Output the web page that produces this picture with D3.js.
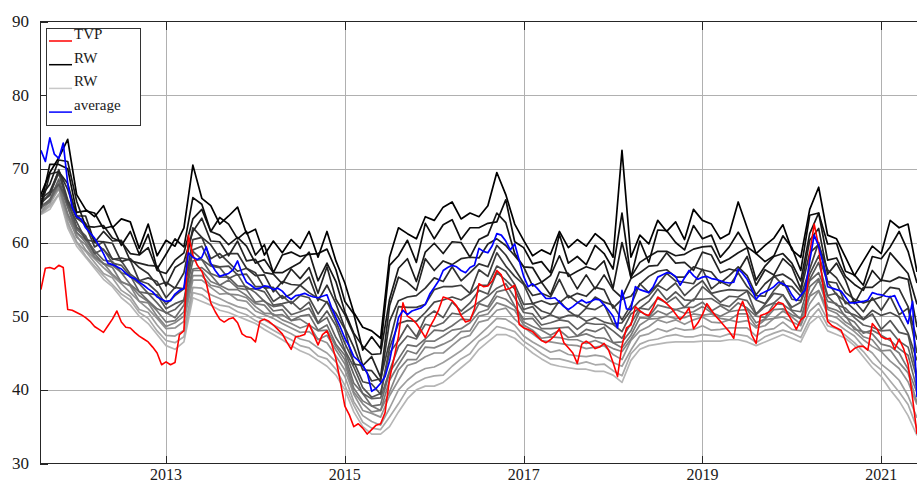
<!DOCTYPE html>
<html>
<head>
<meta charset="utf-8">
<script src="https://cdn.jsdelivr.net/npm/d3@7"></script>
<style>
  html, body { margin: 0; padding: 0; background: #fff; }
  svg { display: block; }
</style>
</head>
<body>
<svg id="chart" width="917" height="484"></svg>
<script>
// Sampling grids (decimal years)
const fineStart = 2011.6, fineStep = 0.05;   // TVP and average
const rwStart = 2011.6, rwStep = 0.1;        // RW paths

const yTicks = [30, 40, 50, 60, 70, 80, 90];
const xTicks = [2013, 2015, 2017, 2019, 2021];
const legendLabels = ["TVP", "RW", "RW", "average"];

const tvp = [53.6,56.5,56.6,56.4,56.9,56.6,50.9,50.8,50.5,50.2,
49.8,49.3,48.6,48.2,47.8,48.7,49.6,50.7,49.2,48.5,
48.4,47.8,47.3,46.9,46.5,45.8,45.0,43.4,43.8,43.4,
43.7,47.5,48.0,61.0,58.3,56.9,56.1,54.5,51.8,50.6,
49.6,49.2,49.6,49.8,49.1,47.6,47.2,47.1,46.5,49.3,
49.6,49.3,48.8,48.2,47.6,46.5,45.5,47.2,47.3,47.5,
49.0,47.5,46.1,47.5,48.0,46.4,44.2,41.1,37.8,36.6,
35.0,35.4,34.8,34.0,34.6,35.2,35.4,36.9,41.5,44.3,
47.3,51.8,50.0,49.6,49.0,48.1,47.1,48.5,49.6,50.9,
52.6,52.4,52.1,51.4,50.1,49.2,49.4,51.0,54.4,54.0,
54.1,54.8,56.2,55.6,53.6,53.8,54.2,48.9,48.4,48.2,
47.9,47.3,46.7,46.4,46.8,47.4,48.3,46.4,45.7,45.0,
43.6,46.2,46.6,46.2,45.6,45.8,46.3,45.4,43.7,41.8,
46.0,48.4,48.8,51.3,50.7,50.3,50.1,51.2,52.6,52.2,
51.7,51.1,50.3,49.5,50.2,51.1,48.3,49.1,50.2,51.7,
50.8,50.0,49.3,48.6,47.9,47.0,50.6,52.0,50.3,47.5,
46.3,50.1,50.3,50.6,51.2,51.9,51.7,50.4,49.4,48.2,
49.5,50.0,58.5,62.5,59.5,54.0,49.3,48.7,48.4,48.1,
46.7,45.1,45.6,45.9,45.9,45.4,49.0,48.3,47.2,46.9,
47.0,45.5,46.9,45.6,43.5,38.9,34.0];

const average = [72.5,71.0,74.2,72.0,71.4,73.5,68.0,64.8,63.5,63.2,
62.0,61.3,60.6,59.6,58.5,57.2,57.0,56.7,56.4,55.8,
55.3,55.1,54.6,54.2,53.7,53.3,52.6,52.3,52.0,52.1,
53.0,53.5,53.8,58.6,58.0,57.7,58.0,59.4,57.2,56.2,
55.4,55.6,55.8,56.3,57.5,55.8,54.6,54.2,53.7,53.8,
54.1,54.0,53.6,53.8,53.4,52.7,52.3,52.8,52.9,53.1,
52.8,52.6,52.5,52.7,52.9,51.2,49.8,48.5,47.0,45.9,
44.5,44.0,43.3,42.3,39.8,40.2,40.9,41.8,43.9,47.0,
49.8,50.8,50.2,50.7,50.9,51.1,51.6,53.0,53.9,54.8,
56.2,56.6,56.9,56.7,56.2,55.9,56.6,56.9,59.2,58.8,
58.6,59.6,61.2,61.0,60.2,59.0,59.8,57.6,55.4,54.0,
54.4,53.8,53.1,52.4,52.4,52.5,51.9,51.3,50.9,51.3,
51.8,52.2,51.8,52.0,52.3,52.2,51.5,50.8,50.0,48.4,
53.5,51.0,50.9,54.0,53.6,53.4,53.2,54.0,55.3,55.6,
55.9,55.8,55.4,54.2,55.2,56.2,55.5,55.0,55.3,55.4,
55.1,55.0,54.8,54.6,54.5,54.6,56.4,55.8,55.0,53.7,
52.3,53.0,53.3,53.6,54.0,54.6,54.4,54.0,52.9,52.1,
52.8,53.6,57.5,61.0,59.5,57.2,54.0,53.8,53.6,53.4,
52.6,51.8,51.8,51.9,52.0,52.2,53.2,53.0,52.9,52.7,
52.6,52.8,51.5,50.3,49.0,52.0,39.0];

// RW paths, darkest (rw01) to lightest (rw16)
const rw01 = [66.5,69.5,71.5,74.0,66.5,64.5,63.5,65.0,62.0,63.2,
62.8,59.2,62.5,58.2,60.3,59.5,62.0,70.5,66.0,65.0,
62.5,63.6,64.8,61.2,61.8,58.3,60.2,58.6,60.4,59.2,
61.5,58.0,61.5,57.5,54.5,50.5,48.5,48.0,47.0,58.0,
62.0,61.2,60.5,63.5,63.0,64.8,65.5,63.2,64.0,63.5,
65.0,69.5,66.5,62.5,60.3,58.2,59.0,58.4,61.5,59.3,
60.4,59.5,61.2,60.2,58.0,72.5,58.0,61.0,59.8,63.0,
61.5,62.8,60.4,64.5,63.0,62.5,60.5,61.2,65.5,62.0,
58.5,59.6,60.6,62.4,59.0,58.0,64.5,67.5,61.0,60.5,
58.0,55.5,57.5,59.5,58.5,63.0,62.0,62.5,56.0];
const rw02 = [65.1,70.6,70.6,70.0,64.1,64.3,64.0,61.9,62.2,59.6,
61.5,58.4,61.1,56.4,58.4,60.5,59.4,66.1,65.2,61.5,
63.4,62.5,60.5,61.5,58.3,59.7,55.9,58.3,58.7,58.1,
58.4,58.5,59.1,56.3,52.0,50.3,45.4,47.2,45.6,56.9,
58.2,60.3,57.3,62.6,60.5,62.4,63.1,60.4,62.0,62.0,
62.6,62.8,65.8,60.1,59.3,57.1,57.4,55.9,61.1,57.2,
58.1,57.0,59.6,58.5,56.4,64.0,55.2,60.2,57.3,61.7,
61.6,60.0,59.0,62.3,60.5,61.0,58.0,59.4,61.4,59.4,
58.5,57.4,58.2,60.9,59.3,56.2,63.7,64.0,59.8,59.9,
56.1,55.6,54.2,58.1,57.8,59.4,61.5,58.8,54.5];
const rw03 = [66.2,67.9,71.2,71.0,65.6,62.2,62.1,62.3,60.6,60.1,
58.5,58.3,59.3,56.2,55.8,57.6,58.6,63.2,64.5,61.5,
61.0,59.7,60.7,59.5,57.2,57.7,55.9,55.9,56.6,57.3,
58.7,54.8,57.2,54.7,50.6,47.7,45.9,44.8,44.9,52.3,
56.5,57.8,54.7,58.7,59.9,58.5,60.1,60.0,58.0,60.4,
61.0,64.0,62.7,58.5,56.7,56.6,54.6,55.5,58.2,55.4,
56.1,56.7,56.3,57.5,53.8,60.0,55.3,57.3,58.1,58.8,
58.8,58.2,58.4,59.1,59.4,59.5,57.2,57.8,58.6,59.3,
54.9,56.8,58.1,58.5,57.2,54.8,61.2,64.0,57.6,57.9,
55.4,54.3,53.5,56.2,54.8,58.6,57.2,55.8,51.6];
const rw04 = [64.6,69.3,69.6,68.0,63.6,63.6,60.0,61.5,60.2,60.3,
57.5,57.2,56.9,56.8,54.1,56.6,57.4,61.5,63.3,60.2,
60.1,58.2,60.2,57.5,57.7,55.9,55.7,54.4,56.4,55.1,
56.6,53.1,56.7,52.3,50.2,47.5,43.3,44.5,41.7,51.4,
55.3,54.6,53.5,57.8,56.2,57.5,57.0,57.8,58.0,57.9,
59.8,60.5,59.6,58.2,56.7,54.1,54.6,52.9,56.0,55.8,
53.7,55.6,53.7,55.6,53.6,52.5,55.1,55.9,56.8,56.9,
58.6,57.2,57.3,56.2,58.7,58.3,55.9,56.4,56.1,58.1,
54.2,56.3,55.6,57.8,56.7,53.7,60.3,61.9,55.7,57.2,
54.9,51.7,53.9,53.9,54.9,54.7,55.3,55.0,48.5];
const rw05 = [65.9,66.9,69.7,67.2,63.6,62.6,60.2,60.1,59.9,57.4,
57.8,56.6,55.8,54.2,54.6,53.8,55.9,62.0,60.7,59.7,
57.9,58.5,58.5,56.5,55.5,55.6,53.3,54.7,54.3,54.2,
55.3,52.1,54.2,51.7,48.4,45.8,42.7,42.6,41.1,49.3,
52.1,52.6,52.8,53.8,55.2,54.7,56.7,54.8,55.9,57.1,
56.7,59.6,58.3,56.4,54.5,52.8,53.1,52.6,55.0,52.5,
53.1,52.7,53.9,53.6,51.1,52.3,52.7,54.3,55.4,56.1,
56.3,55.3,55.3,56.7,56.3,56.0,54.5,55.5,56.7,55.5,
52.9,54.4,55.4,55.7,54.9,53.3,58.6,59.7,56.3,55.2,
53.2,52.3,51.8,52.2,52.6,53.9,53.7,51.3,46.8];
const rw06 = [65.4,66.4,69.9,65.8,63.3,62.4,59.4,60.1,57.7,57.9,
57.6,54.8,55.2,54.7,52.5,53.9,53.7,60.4,60.7,57.8,
58.5,57.3,56.1,56.5,55.9,53.8,53.9,52.4,53.0,54.2,
53.2,52.4,51.9,50.4,48.2,43.5,43.3,41.2,41.5,46.5,
51.3,51.2,51.2,51.6,53.6,54.0,54.0,54.2,53.1,56.3,
55.4,58.6,56.8,55.4,54.3,51.7,52.1,51.6,51.8,52.8,
51.9,51.2,52.6,51.9,51.5,49.5,51.5,54.4,53.2,54.3,
55.8,54.8,54.6,54.4,56.4,53.7,54.7,54.1,55.9,54.0,
52.8,52.7,55.5,54.2,54.0,52.7,56.4,60.0,54.7,54.5,
51.7,52.0,50.6,52.5,50.8,52.7,50.2,51.1,45.0];
const rw07 = [65.3,66.6,69.4,65.3,62.8,60.4,60.1,59.0,57.8,57.5,
55.7,54.8,54.4,53.3,51.6,52.8,53.7,59.0,59.5,57.0,
56.7,56.8,55.6,55.7,54.0,54.0,52.0,52.8,51.7,52.8,
52.5,50.3,52.0,49.3,46.3,43.8,41.1,40.8,39.4,45.7,
49.0,49.4,49.3,50.5,51.9,52.2,52.6,52.2,53.0,54.2,
54.2,56.8,56.1,54.3,51.6,51.7,50.7,50.3,52.1,50.7,
49.9,51.1,50.9,51.6,49.0,49.1,50.8,52.1,52.8,54.2,
53.5,54.5,52.8,53.9,54.8,53.1,53.4,53.6,53.5,53.5,
52.2,51.7,53.5,54.8,52.3,52.1,55.7,58.2,54.6,52.9,
52.0,50.9,49.6,50.8,50.1,50.5,49.9,47.7,44.0];
const rw08 = [65.3,66.6,67.9,65.7,62.1,60.9,58.5,59.1,57.2,56.9,
55.4,54.4,53.1,52.9,51.0,51.7,52.2,58.8,57.7,56.8,
56.6,55.1,55.7,53.7,53.7,53.3,51.5,51.7,52.0,50.9,
51.9,49.1,50.7,48.7,45.4,43.1,40.3,39.0,39.5,45.0,
46.7,48.8,47.2,49.8,50.7,49.8,51.9,50.7,51.8,53.5,
53.0,55.9,54.9,53.7,50.9,51.3,49.6,50.2,49.7,50.1,
50.1,49.3,49.8,49.2,48.9,47.9,50.3,51.1,52.0,53.7,
52.2,53.3,52.2,52.1,54.0,53.0,51.9,52.7,52.6,53.4,
50.3,51.6,53.1,52.9,51.2,51.9,55.0,57.3,52.8,53.1,
50.6,50.2,49.5,50.3,48.2,49.4,47.8,47.5,42.0];
const rw09 = [64.9,65.8,68.6,64.9,61.8,60.6,58.9,57.6,57.4,55.9,
55.5,53.3,53.1,51.8,50.4,50.9,52.1,57.5,57.7,55.8,
55.3,55.3,54.1,54.0,53.2,52.0,51.3,51.5,50.2,50.6,
51.1,49.0,49.8,47.1,45.2,42.1,39.5,38.8,38.9,42.6,
45.9,47.3,46.9,48.9,48.6,49.1,50.4,50.2,51.0,51.9,
52.7,53.8,54.4,52.5,50.5,50.3,48.8,49.1,49.5,49.3,
48.2,49.1,48.9,48.9,48.0,47.0,49.0,51.1,50.9,52.4,
51.8,52.6,51.2,52.3,52.3,52.4,51.6,51.3,52.4,52.1,
50.2,51.3,51.8,52.9,50.8,50.6,54.8,55.9,52.7,51.5,
51.1,49.8,48.8,48.5,48.0,48.1,46.6,45.8,41.5];
const rw10 = [64.8,65.5,68.1,64.8,61.3,60.4,58.5,57.1,56.9,55.9,
54.3,53.3,52.1,51.0,50.5,49.8,51.5,56.4,56.6,55.6,
54.2,54.9,53.8,53.6,51.9,52.1,50.7,50.9,49.4,50.0,
50.2,48.1,48.8,46.2,44.7,40.9,39.5,37.8,38.0,42.4,
44.2,46.1,45.9,46.9,48.1,48.0,48.7,49.6,49.5,51.7,
51.3,53.3,53.6,51.4,49.6,49.7,48.3,48.3,48.4,48.5,
47.3,48.2,47.9,48.5,46.4,46.5,48.0,50.7,49.9,51.5,
51.2,50.9,51.2,51.2,51.9,50.7,51.4,50.7,51.8,51.1,
50.0,49.8,51.7,51.6,50.7,49.6,54.0,55.1,52.0,51.7,
49.9,49.2,47.7,48.1,47.4,46.7,45.6,44.7,40.1];
const rw11 = [64.9,65.7,67.9,63.9,61.4,60.0,58.1,57.1,56.6,54.6,
54.2,52.8,52.0,50.7,49.2,49.4,50.6,56.2,56.2,54.7,
54.2,53.6,53.6,52.8,51.7,51.5,50.1,50.2,49.4,49.6,
48.8,48.0,48.1,45.9,44.1,40.2,38.5,37.8,37.2,41.3,
43.4,45.3,44.9,46.6,46.6,47.3,48.1,48.3,49.1,50.5,
50.9,52.7,52.3,51.3,49.2,48.6,48.1,47.4,48.1,47.1,
47.3,47.6,47.1,47.0,46.4,45.7,47.4,49.8,49.7,50.7,
50.2,50.9,50.4,50.6,51.3,50.5,50.0,50.6,50.8,50.9,
49.1,49.6,50.9,51.0,50.2,49.7,52.9,54.9,51.2,50.8,
50.1,48.2,47.9,47.6,46.2,45.9,45.0,42.8,39.6];
const rw12 = [64.5,65.9,67.4,63.8,60.7,59.7,57.9,57.2,55.7,54.7,
54.1,52.0,51.8,50.0,48.6,49.1,50.0,55.5,55.5,54.2,
53.9,53.0,52.9,52.5,51.3,50.4,50.3,49.5,49.0,48.4,
48.8,46.8,47.4,45.4,43.5,39.7,38.1,37.0,37.2,39.7,
42.7,44.1,44.1,45.8,45.7,46.2,46.8,47.9,48.0,50.0,
50.3,51.8,51.4,50.8,48.8,48.1,47.0,47.2,47.1,46.8,
46.8,46.3,46.7,46.2,45.6,45.2,46.9,48.8,49.6,49.7,
50.0,49.7,49.8,50.3,50.1,50.3,49.7,49.5,50.3,50.3,
48.6,49.5,49.7,50.7,49.9,48.9,52.7,53.5,50.9,50.4,
49.2,48.5,47.2,46.8,45.3,45.4,43.7,42.3,38.3];
const rw13 = [64.1,65.6,67.5,63.3,61.0,59.0,57.8,56.6,55.5,54.4,
53.2,52.0,51.0,49.7,48.3,48.4,49.3,54.9,54.9,53.9,
53.0,53.1,52.2,52.0,50.7,50.2,49.7,49.0,48.4,47.8,
47.9,46.9,46.4,44.6,42.7,39.4,37.2,36.8,36.3,39.2,
41.3,43.3,43.7,44.5,45.0,45.0,46.0,47.0,47.4,49.2,
49.5,50.8,51.1,49.6,48.5,47.6,46.7,46.5,46.3,46.1,
46.0,45.6,45.8,46.0,44.8,44.1,46.7,48.0,48.6,49.5,
49.1,49.5,48.9,49.5,49.9,49.2,49.1,49.5,49.2,49.4,
48.4,48.7,49.7,49.9,49.2,48.7,51.7,53.4,50.2,49.8,
48.8,47.9,46.8,45.9,45.2,43.9,42.9,41.1,38.0];
const rw14 = [63.9,65.2,67.3,62.8,60.1,58.8,57.3,55.8,55.2,53.5,
52.7,50.9,50.5,48.8,47.4,47.3,48.1,53.9,53.8,52.9,
52.4,51.8,51.3,51.0,50.0,49.5,48.8,48.2,47.6,46.9,
46.6,45.7,45.0,43.8,41.8,38.4,36.5,35.7,35.2,37.5,
40.0,41.3,42.3,42.9,43.1,43.7,44.5,45.3,46.3,47.4,
48.5,49.7,49.6,48.8,47.3,46.5,45.8,45.1,45.4,44.8,
44.6,44.5,44.7,44.5,43.7,43.2,45.4,47.3,47.6,48.3,
47.9,48.4,48.1,48.2,48.7,48.1,48.2,48.4,48.4,48.4,
47.3,48.1,48.3,49.2,48.2,48.0,50.7,51.8,49.5,49.0,
48.1,47.3,45.9,45.0,43.5,42.5,41.3,39.2,36.2];
const rw15 = [63.9,64.9,66.6,62.4,60.0,58.2,56.8,55.5,54.3,53.0,
52.2,50.5,49.7,48.0,46.7,46.4,47.2,53.2,52.9,52.0,
51.5,51.3,50.6,50.2,49.4,48.8,48.1,47.4,46.8,46.0,
45.7,44.6,44.2,42.8,40.6,37.9,35.6,34.8,34.6,36.3,
38.1,40.1,41.0,41.6,41.9,42.0,43.2,44.2,44.9,46.6,
47.4,48.6,48.3,47.9,46.6,45.8,44.9,44.2,44.2,43.9,
43.5,43.8,43.4,43.5,42.6,41.9,44.9,46.2,46.7,46.9,
47.3,47.5,47.2,47.2,47.5,47.4,47.2,47.6,47.5,47.3,
46.4,47.2,47.7,48.1,47.7,47.1,49.6,51.0,48.7,48.3,
47.4,46.4,45.2,43.7,42.7,41.2,39.7,38.0,34.8];
const rw16 = [63.8,64.5,66.5,62.0,59.5,58.0,56.5,55.0,54.0,52.5,
51.5,50.0,49.0,47.5,46.0,45.5,46.5,52.5,52.0,51.5,
50.8,50.5,50.0,49.5,49.0,48.2,47.5,46.8,46.0,45.3,
44.8,44.0,43.2,42.0,40.0,37.0,35.0,34.0,34.0,35.0,
37.0,38.8,40.0,40.5,40.5,41.0,42.0,43.0,44.0,45.5,
46.5,47.5,47.5,47.0,46.0,45.0,44.2,43.5,43.2,43.0,
42.8,42.8,42.5,42.5,42.0,41.0,44.0,45.5,46.0,46.2,
46.4,46.5,46.5,46.5,46.6,46.6,46.6,46.8,46.8,46.5,
46.0,46.5,47.0,47.5,47.0,46.5,49.0,50.0,48.0,47.5,
47.0,46.0,44.5,43.0,41.8,40.0,38.5,36.5,33.8];

const rwPaths = [rw01, rw02, rw03, rw04, rw05, rw06, rw07, rw08,
                 rw09, rw10, rw11, rw12, rw13, rw14, rw15, rw16];

// ---------------------------------------------------------------
const svg = d3.select("#chart");
const plot = { left: 40, right: 917, top: 21.5, bottom: 463.5 };

const x = d3.scaleLinear().domain([2011.59, 2021.40]).range([plot.left, plot.right]);
const y = d3.scaleLinear().domain([30, 90]).range([plot.bottom, plot.top]);

const axisColor = "#262626";
const gridColor = "#b0b0b0";
const fontFamily = "'Liberation Serif', 'Times New Roman', serif";

svg.append("rect").attr("width", 917).attr("height", 484).attr("fill", "#fff");

// grid
const grid = svg.append("g").attr("shape-rendering", "crispEdges");
grid.selectAll("line.gy").data(yTicks.filter(t => t > 30 && t < 90)).join("line")
  .attr("x1", plot.left).attr("x2", plot.right)
  .attr("y1", d => Math.round(y(d)) + 0.5).attr("y2", d => Math.round(y(d)) + 0.5)
  .attr("stroke", gridColor).attr("stroke-width", 1);
grid.selectAll("line.gx").data(xTicks).join("line")
  .attr("y1", plot.top).attr("y2", plot.bottom)
  .attr("x1", d => Math.round(x(d)) + 0.5).attr("x2", d => Math.round(x(d)) + 0.5)
  .attr("stroke", gridColor).attr("stroke-width", 1);

// data layer, clipped to the axes box
svg.append("clipPath").attr("id", "plotClip").append("rect")
  .attr("x", plot.left).attr("y", plot.top)
  .attr("width", plot.right - plot.left).attr("height", plot.bottom - plot.top);
const layer = svg.append("g").attr("clip-path", "url(#plotClip)");

const rwLine = d3.line().x((d, i) => x(rwStart + i * rwStep)).y(d => y(d));
const fineLine = d3.line().x((d, i) => x(fineStart + i * fineStep)).y(d => y(d));
const shade = d3.interpolateRgb("#000000", "#b6b6b6");
const n = rwPaths.length;

// lighter paths first so the darker ones sit on top
layer.selectAll("path.rw").data(rwPaths.map((v, i) => ({ v, i })).reverse()).join("path")
  .attr("class", "rw")
  .attr("d", d => rwLine(d.v))
  .attr("fill", "none")
  .attr("stroke", d => shade(d.i / (n - 1)))
  .attr("stroke-width", 1.7)
  .attr("stroke-linejoin", "round");

layer.append("path").datum(tvp).attr("d", fineLine)
  .attr("fill", "none").attr("stroke", "#ff0000").attr("stroke-width", 1.6)
  .attr("stroke-linejoin", "round");
layer.append("path").datum(average).attr("d", fineLine)
  .attr("fill", "none").attr("stroke", "#0000ff").attr("stroke-width", 1.7)
  .attr("stroke-linejoin", "round");

// axes box lines
const frame = svg.append("g").attr("shape-rendering", "crispEdges").attr("stroke", axisColor);
frame.append("line").attr("x1", plot.left + 0.5).attr("x2", plot.left + 0.5)
  .attr("y1", plot.top).attr("y2", plot.bottom);
frame.append("line").attr("x1", plot.left).attr("x2", plot.right)
  .attr("y1", plot.bottom).attr("y2", plot.bottom);
frame.append("line").attr("x1", plot.left).attr("x2", plot.right)
  .attr("y1", plot.top).attr("y2", plot.top);

// inward ticks
const tickLen = 8;
frame.selectAll("line.yt").data(yTicks).join("line")
  .attr("x1", plot.left).attr("x2", plot.left + tickLen)
  .attr("y1", d => Math.round(y(d)) + 0.5).attr("y2", d => Math.round(y(d)) + 0.5);
frame.selectAll("line.xb").data(xTicks).join("line")
  .attr("x1", d => Math.round(x(d)) + 0.5).attr("x2", d => Math.round(x(d)) + 0.5)
  .attr("y1", plot.bottom).attr("y2", plot.bottom - tickLen);
frame.selectAll("line.xt").data(xTicks).join("line")
  .attr("x1", d => Math.round(x(d)) + 0.5).attr("x2", d => Math.round(x(d)) + 0.5)
  .attr("y1", plot.top).attr("y2", plot.top + tickLen);

// tick labels
svg.append("g").selectAll("text").data(yTicks).join("text")
  .attr("x", 29).attr("y", d => y(d)).attr("dy", "0.33em")
  .attr("text-anchor", "end")
  .attr("font-family", fontFamily).attr("font-size", 17).attr("fill", "#1a1a1a")
  .text(d => d);
svg.append("g").selectAll("text").data(xTicks).join("text")
  .attr("x", d => x(d)).attr("y", 480)
  .attr("text-anchor", "middle")
  .attr("font-family", fontFamily).attr("font-size", 16).attr("fill", "#1a1a1a")
  .text(d => d);

// legend
const legendColors = ["#ff0000", "#000000", "#c8c8c8", "#0000ff"];
const legend = svg.append("g");
legend.append("rect").attr("x", 46.5).attr("y", 28.5).attr("width", 94).attr("height", 97)
  .attr("fill", "#fff").attr("stroke", "#333").attr("stroke-width", 1)
  .attr("shape-rendering", "crispEdges");
const rows = legend.selectAll("g.row").data(legendLabels).join("g")
  .attr("transform", (d, i) => `translate(0, ${41 + i * 23.7})`);
rows.append("line").attr("x1", 49).attr("x2", 72).attr("y1", 0).attr("y2", 0)
  .attr("stroke", (d, i) => legendColors[i]).attr("stroke-width", 1.5);
rows.append("text").attr("x", 74).attr("y", -2)
  .attr("font-family", fontFamily).attr("font-size", 15).attr("fill", "#1a1a1a")
  .text(d => d);
</script>
</body>
</html>
